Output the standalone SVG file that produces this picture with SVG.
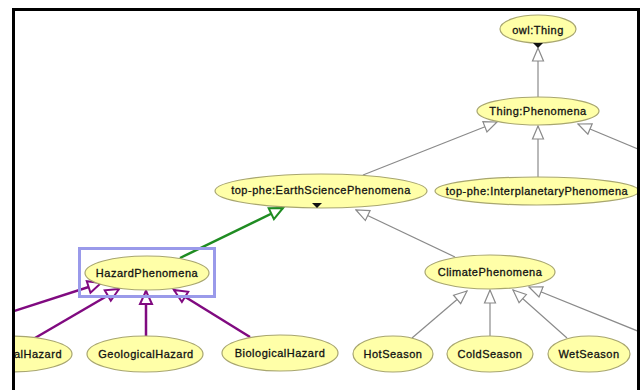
<svg xmlns="http://www.w3.org/2000/svg" width="641" height="390" viewBox="0 0 641 390">
<style>
.n ellipse{fill:#ffffa8;stroke:#a8a670;stroke-width:1.2}
.n text{font-family:"Liberation Sans",Arial,sans-serif;font-size:11px;letter-spacing:0.5px;fill:#111;stroke:#111;stroke-width:0.3;text-anchor:middle;dominant-baseline:central}
.g{fill:none;stroke:#8a8a8a;stroke-width:1.2}
.gr{fill:none;stroke:#1f8c22;stroke-width:2.5}
.p{fill:none;stroke:#800a80;stroke-width:2.5}
.ot{fill:#111}
</style>
<defs>
<marker id="tg" viewBox="-1 -7 15 14" refX="13" refY="0" markerWidth="15" markerHeight="14" markerUnits="userSpaceOnUse" orient="auto"><path d="M13,0 L0,-5.5 L0,5.5 Z" fill="#fff" stroke="#8a8a8a" stroke-width="1.2"/></marker>
<marker id="tgr" viewBox="-2 -8 17 16" refX="13" refY="0" markerWidth="17" markerHeight="16" markerUnits="userSpaceOnUse" orient="auto"><path d="M13,0 L0,-6 L0,6 Z" fill="#fff" stroke="#1f8c22" stroke-width="2"/></marker>
<marker id="tp" viewBox="-2 -8 17 16" refX="13" refY="0" markerWidth="17" markerHeight="16" markerUnits="userSpaceOnUse" orient="auto"><path d="M13,0 L0,-6 L0,6 Z" fill="#fff" stroke="#800a80" stroke-width="2"/></marker>
<clipPath id="cl"><rect x="15" y="11" width="622" height="379"/></clipPath>
</defs>
<rect width="641" height="390" fill="#fff"/>
<g clip-path="url(#cl)">
<g id="connectors">
<path class="g" d="M538,97 L538,48" marker-end="url(#tg)"/>
<path class="g" d="M538,177 L538,126" marker-end="url(#tg)"/>
<path class="g" d="M363,175 L497,122" marker-end="url(#tg)"/>
<path class="g" d="M645,152 L578,124" marker-end="url(#tg)"/>
<path class="g" d="M455,257 L356,210" marker-end="url(#tg)"/>
<path class="g" d="M412,338 L467,291" marker-end="url(#tg)"/>
<path class="g" d="M490,336 L490,290" marker-end="url(#tg)"/>
<path class="g" d="M567,338 L513,290" marker-end="url(#tg)"/>
<path class="g" d="M645,334 L529,287" marker-end="url(#tg)"/>
<path class="gr" d="M180,258 L283,208" marker-end="url(#tgr)"/>
<path class="p" d="M5,314 L101,283" marker-end="url(#tp)"/>
<path class="p" d="M35,338 L119,289" marker-end="url(#tp)"/>
<path class="p" d="M146,336 L146,291" marker-end="url(#tp)"/>
<path class="p" d="M250,337 L174,290" marker-end="url(#tp)"/>
</g>
<g id="owlThing" class="n"><ellipse cx="538" cy="29" rx="38" ry="14"/><text x="538" y="30">owl:Thing</text><path class="ot" d="M533,43 L543,43 L538,48 Z"/></g>
<g id="thingPhenomena" class="n"><ellipse cx="538" cy="111" rx="61" ry="14"/><text x="538" y="111">Thing:Phenomena</text></g>
<g id="earthScience" class="n"><ellipse cx="321" cy="191" rx="106" ry="17"/><text x="321" y="190">top-phe:EarthSciencePhenomena</text><path class="ot" d="M312,203 L322,203 L317,208 Z"/></g>
<g id="interplanetary" class="n"><ellipse cx="537" cy="191" rx="102" ry="14"/><text x="537" y="191">top-phe:InterplanetaryPhenomena</text></g>
<g id="hazardPhenomena" class="n"><ellipse cx="147" cy="273" rx="62" ry="17"/><text x="147" y="273">HazardPhenomena</text></g>
<rect id="selection" x="79.5" y="248.5" width="135" height="48" fill="none" stroke="#9a9aea" stroke-width="3"/>
<g id="climatePhenomena" class="n"><ellipse cx="490" cy="272" rx="65" ry="17"/><text x="490" y="272">ClimatePhenomena</text></g>
<g id="alHazard" class="n"><ellipse cx="10" cy="354" rx="62" ry="18"/><text x="38" y="354">alHazard</text></g>
<g id="geologicalHazard" class="n"><ellipse cx="145" cy="354" rx="58" ry="18"/><text x="146" y="354">GeologicalHazard</text></g>
<g id="biologicalHazard" class="n"><ellipse cx="280" cy="353" rx="58" ry="18"/><text x="280" y="353">BiologicalHazard</text></g>
<g id="hotSeason" class="n"><ellipse cx="393" cy="354" rx="40" ry="18"/><text x="393" y="354">HotSeason</text></g>
<g id="coldSeason" class="n"><ellipse cx="490" cy="354" rx="43" ry="18"/><text x="490" y="354">ColdSeason</text></g>
<g id="wetSeason" class="n"><ellipse cx="589" cy="354" rx="41" ry="18"/><text x="589" y="354">WetSeason</text></g>
</g>
<path d="M13.5,390 L13.5,9.5 L638.5,9.5 L638.5,390" fill="none" stroke="#000" stroke-width="3"/>
</svg>
